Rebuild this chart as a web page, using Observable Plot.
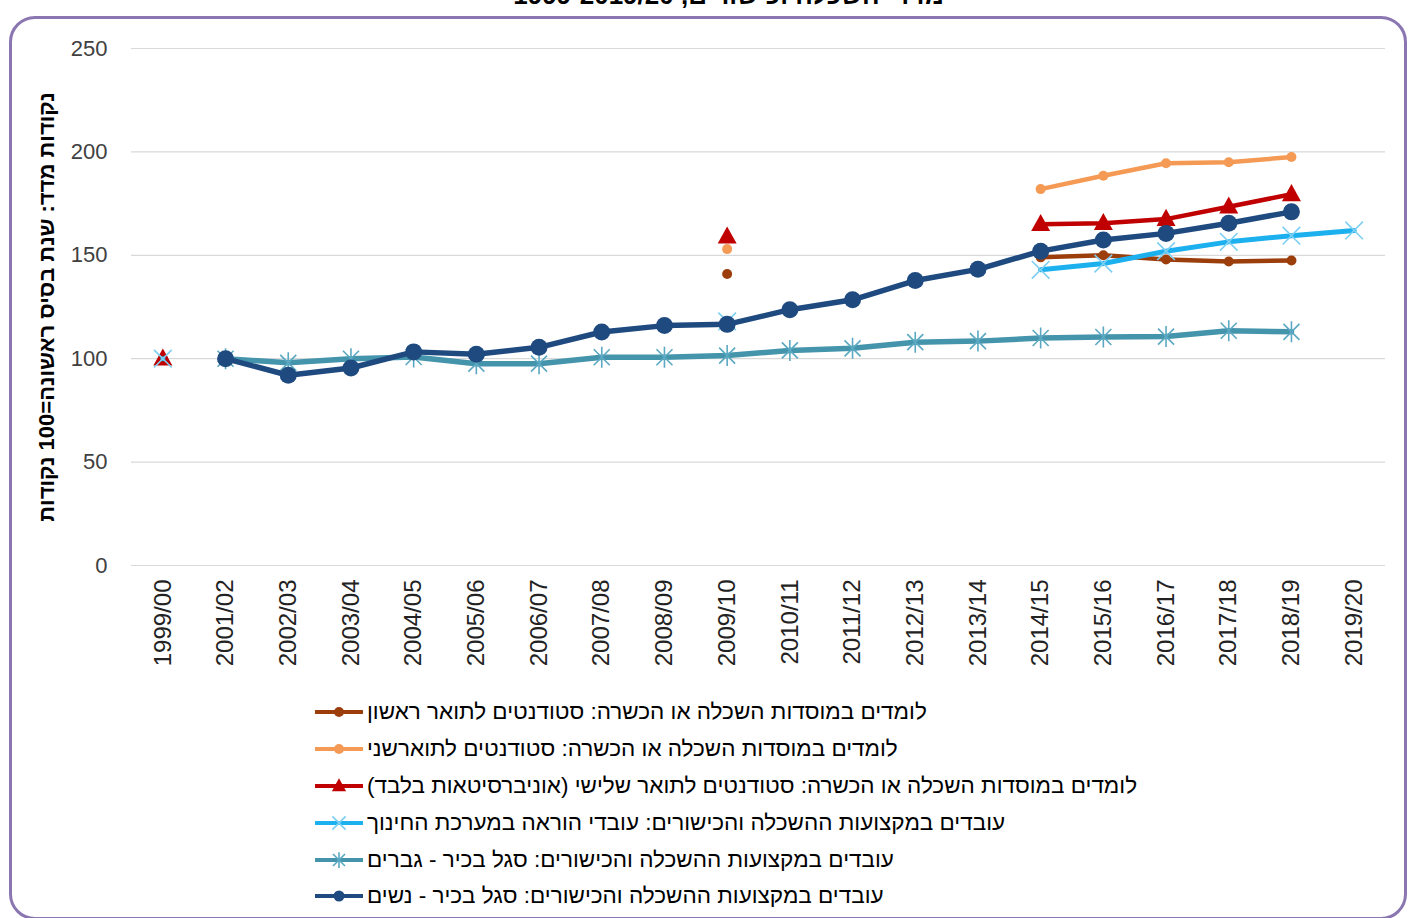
<!DOCTYPE html>
<html lang="he">
<head>
<meta charset="utf-8">
<script src="https://cdn.jsdelivr.net/npm/d3@7"></script>
<script src="https://cdn.jsdelivr.net/npm/@observablehq/plot@0.6"></script>
<style>
  html, body { margin: 0; padding: 0; background: #fff; }
  #page { position: relative; width: 1409px; height: 918px; overflow: hidden; font-family: "Liberation Sans", Arial, "DejaVu Sans", sans-serif; }
  #frame { position: absolute; left: 9px; top: 16px; width: 1398px; height: 904px; border: 3px solid #8A77B2; border-radius: 26px; box-sizing: border-box; }
  #title { position: absolute; top: -20px; left: 24px; width: 1409px; text-align: center; font-size: 26px; font-weight: bold; line-height: 30px; color: #000; direction: rtl; }
  #chart { position: absolute; left: 0; top: 0; }
  #legend { position: absolute; left: 313px; top: 694px; }
  .row { display: flex; align-items: center; height: 36.8px; }
  .row span { direction: rtl; font-size: 22.5px; color: #000; margin-left: 2px; white-space: nowrap; }
</style>
</head>
<body>
<div id="page">
  <div id="frame"></div>
  <div id="title">מדדי השכלה וכישורים, 1999-2019/20</div>
  <div id="chart"></div>
  <div id="legend"></div>
</div>
<script>
// ---- data ----
const years = ["1999/00","2001/02","2002/03","2003/04","2004/05","2005/06","2006/07","2007/08","2008/09","2009/10",
  "2010/11","2011/12","2012/13","2013/14","2014/15","2015/16","2016/17","2017/18","2018/19","2019/20"];
const yTicks = [0, 50, 100, 150, 200, 250];

const bachelor     = [100, null, null, null, null, null, null, null, null, 141,   null, null, null, null, 149, 150, 148, 147, 147.5, null];
const master       = [100, null, null, null, null, null, null, null, null, 153,   null, null, null, null, 182, 188.5, 194.5, 195, 197.5, null];
const doctorate    = [100, null, null, null, null, null, null, null, null, 159,   null, null, null, null, 165, 165.5, 167.5, 173.5, 179.5, null];
const teachers     = [100, null, null, null, null, null, null, null, null, 118,   null, null, null, null, 143, 146, 152, 156.5, 159.5, 162];
const seniorMen    = [null, 100, 98, 100, 100.8, 97.6, 97.6, 100.7, 100.7, 101.5, 104, 105, 108, 108.5, 110, 110.5, 110.7, 113.5, 113, null];
const seniorWomen  = [null, 100, 92, 95.5, 103.3, 102.2, 105.5, 112.9, 116, 116.6, 123.7, 128.5, 137.8, 143.2, 152, 157.4, 160.6, 165.5, 171, null];

const seriesNames = [
  "לומדים במוסדות השכלה או הכשרה: סטודנטים לתואר ראשון",
  "לומדים במוסדות השכלה או הכשרה: סטודנטים לתוארשני",
  "לומדים במוסדות השכלה או הכשרה: סטודנטים לתואר שלישי (אוניברסיטאות בלבד)",
  "עובדים במקצועות ההשכלה והכישורים: עובדי הוראה במערכת החינוך",
  "עובדים במקצועות ההשכלה והכישורים: סגל בכיר - גברים",
  "עובדים במקצועות ההשכלה והכישורים: סגל בכיר - נשים"
];
const yLabel = "נקודות מדד: שנת בסיס ראשונה=100 נקודות";

// ---- custom symbols ----
const symAsterisk = { draw(ctx, size) { const r = Math.sqrt(size / Math.PI);
  ctx.moveTo(-r*0.8, -r*0.8); ctx.lineTo(r*0.8, r*0.8);
  ctx.moveTo(r*0.8, -r*0.8); ctx.lineTo(-r*0.8, r*0.8);
  ctx.moveTo(0, -r*1.05); ctx.lineTo(0, r*1.05); } };
const symTimes = { draw(ctx, size) { const r = Math.sqrt(size / Math.PI) * 0.8;
  ctx.moveTo(-r, -r); ctx.lineTo(r, r); ctx.moveTo(r, -r); ctx.lineTo(-r, r); } };
const symTriangle = { draw(ctx, size) { const r = Math.sqrt(size / Math.PI);
  const w = r * 2, h = r * 1.8;
  ctx.moveTo(0, -h*0.6); ctx.lineTo(w/2, h*0.4); ctx.lineTo(-w/2, h*0.4); ctx.closePath(); } };

const styles = [
  { values: bachelor,    line: "#9C3E0C", lw: 4.5, symbol: "circle",   r: 5,   fill: "#9C3E0C", stroke: "none", sw: 0 },
  { values: master,      line: "#F59A55", lw: 4.5, symbol: "circle",   r: 5,   fill: "#F59A55", stroke: "none", sw: 0 },
  { values: doctorate,   line: "#C00000", lw: 4.5, symbol: symTriangle,r: 9.5, fill: "#C00000", stroke: "none", sw: 0 },
  { values: teachers,    line: "#1CB0EE", lw: 5,   symbol: symTimes,   r: 11,  fill: "none",    stroke: "#7CCFF2", sw: 1.6 },
  { values: seniorMen,   line: "#4494AC", lw: 5.5, symbol: symAsterisk,r: 10,  fill: "none",    stroke: "#5AA8C1", sw: 1.6 },
  { values: seniorWomen, line: "#1F4A80", lw: 5.5, symbol: "circle",   r: 8.5, fill: "#1F4A80", stroke: "none", sw: 0 }
];

const marks = [
  Plot.ruleY(yTicks, { y: d => d, stroke: "#D9D9D9", strokeWidth: 1.2, strokeOpacity: 1 }),
  Plot.axisY({ ticks: yTicks, tickSize: 0, tickPadding: 24, fontSize: 22, label: null, fill: "#404040" }),
  Plot.axisX({ tickRotate: -90, tickSize: 0, tickPadding: 14, fontSize: 24, label: null, fill: "#222" }),
  Plot.text([yLabel], { frameAnchor: "left", dx: -85, rotate: -90, textAnchor: "middle", fontSize: 22, fontWeight: "bold", fill: "#000", text: d => d })
];
for (const s of styles) {
  marks.push(Plot.line(s.values, { x: (d, i) => years[i], y: d => d, stroke: s.line, strokeWidth: s.lw, curve: "linear" }));
  marks.push(Plot.dot(s.values.map((v, i) => ({ x: years[i], y: v })).filter(d => d.y != null),
    { x: "x", y: "y", r: s.r, symbol: s.symbol, fill: s.fill, stroke: s.stroke, strokeWidth: s.sw }));
}

const chart = Plot.plot({
  width: 1409, height: 680,
  marginLeft: 131, marginRight: 24, marginTop: 48, marginBottom: 115,
  style: { fontFamily: "'Liberation Sans', Arial, sans-serif", background: "transparent", overflow: "visible" },
  x: { type: "point", domain: years, padding: 0.5, round: false },
  y: { domain: [0, 250] },
  marks
});
document.getElementById("chart").appendChild(chart);

// ---- legend ----
const legend = document.getElementById("legend");
const ns = "http://www.w3.org/2000/svg";
styles.forEach((s, i) => {
  const row = document.createElement("div");
  row.className = "row";
  const svg = document.createElementNS(ns, "svg");
  svg.setAttribute("width", 52); svg.setAttribute("height", 22);
  const ln = document.createElementNS(ns, "line");
  ln.setAttribute("x1", 2); ln.setAttribute("x2", 50); ln.setAttribute("y1", 11); ln.setAttribute("y2", 11);
  ln.setAttribute("stroke", s.line); ln.setAttribute("stroke-width", 4);
  svg.appendChild(ln);
  const p = d3.path();
  const sym = s.symbol === "circle" ? d3.symbolCircle : s.symbol;
  const rr = s.symbol === "circle" ? Math.min(s.r, 5.5) : s.r * 0.75;
  sym.draw(p, Math.PI * rr * rr);
  const mk = document.createElementNS(ns, "path");
  mk.setAttribute("d", p.toString());
  mk.setAttribute("transform", "translate(26,11)");
  mk.setAttribute("fill", s.fill); mk.setAttribute("stroke", s.stroke); mk.setAttribute("stroke-width", s.sw);
  svg.appendChild(mk);
  row.appendChild(svg);
  const t = document.createElement("span");
  t.textContent = seriesNames[i];
  row.appendChild(t);
  legend.appendChild(row);
});
</script>
</body>
</html>
